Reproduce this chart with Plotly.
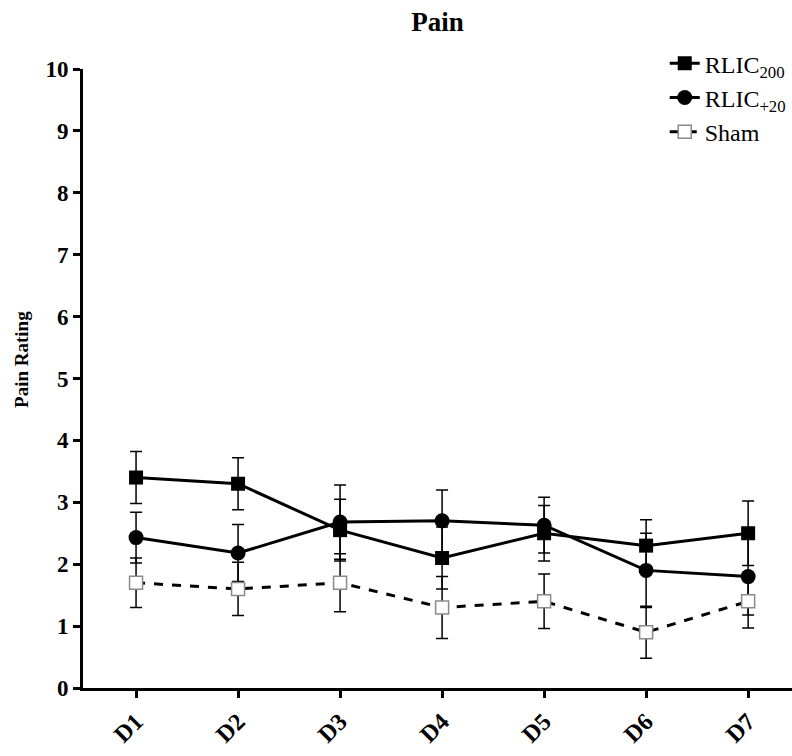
import plotly.graph_objects as go

days = ["D1", "D2", "D3", "D4", "D5", "D6", "D7"]
rlic200 = [3.4, 3.3, 2.55, 2.1, 2.5, 2.3, 2.5]
rlic200_err = [0.42, 0.42, 0.5, 0.5, 0.45, 0.42, 0.52]
rlic20 = [2.43, 2.18, 2.68, 2.7, 2.63, 1.9, 1.8]
rlic20_err = [0.41, 0.46, 0.6, 0.5, 0.45, 0.6, 0.62]
sham = [1.7, 1.6, 1.7, 1.3, 1.4, 0.9, 1.4]
sham_err = [0.4, 0.43, 0.47, 0.5, 0.44, 0.42, 0.43]
y_ticks = list(range(0, 11))

font_family = "Liberation Serif, Times New Roman, serif"

fig = go.Figure()

def err(arr):
    return dict(type="data", array=arr, visible=True, color="black", thickness=1.5, width=6)

fig.add_trace(go.Scatter(
    x=days, y=rlic200, name="RLIC<sub>200</sub>", mode="lines+markers",
    line=dict(color="black", width=3),
    marker=dict(symbol="square", size=14, color="black"),
    error_y=err(rlic200_err)))
fig.add_trace(go.Scatter(
    x=days, y=rlic20, name="RLIC<sub>+20</sub>", mode="lines+markers",
    line=dict(color="black", width=3),
    marker=dict(symbol="circle", size=15, color="black"),
    error_y=err(rlic20_err)))
fig.add_trace(go.Scatter(
    x=days, y=sham, name="Sham", mode="lines+markers",
    line=dict(color="black", width=3, dash="dash"),
    marker=dict(symbol="square", size=13, color="white", line=dict(color="#8a8a8a", width=1.5)),
    error_y=err(sham_err)))

fig.update_layout(
    width=792, height=756,
    margin=dict(l=83, r=0, t=69, b=68, autoexpand=False),
    paper_bgcolor="white", plot_bgcolor="white",
    font=dict(family=font_family, size=22, color="black"),
    title=dict(text="<b>Pain</b>", x=0.5, xref="paper", y=1 - 22 / 756, yref="container",
               xanchor="center", yanchor="middle", font=dict(size=27, family=font_family)),
    showlegend=True,
    legend=dict(x=0.8205, y=1.045, xanchor="left", yanchor="top", bgcolor="rgba(0,0,0,0)",
                font=dict(size=24, family=font_family), tracegroupgap=0, itemwidth=30),
    xaxis=dict(
        type="category", categoryorder="array", categoryarray=days,
        range=[-0.52, 6.43],
        showline=True, linecolor="black", linewidth=3,
        ticks="outside", ticklen=7, tickwidth=2.5, tickcolor="black",
        tickangle=-45, showgrid=False, zeroline=False,
        tickfont=dict(size=24, family=font_family, weight="bold")),
    yaxis=dict(
        range=[0, 10], tickvals=y_ticks, ticktext=[f"<b>{v}</b>" for v in y_ticks],
        showline=True, linecolor="black", linewidth=3,
        ticks="outside", ticklen=7, tickwidth=2.5, tickcolor="black",
        showgrid=False, zeroline=False,
        tickfont=dict(size=23, family=font_family)),
    annotations=[dict(
        text="<b>Pain Rating</b>", x=-0.086, y=0.53, xref="paper", yref="paper",
        textangle=-90, showarrow=False, xanchor="center", yanchor="middle",
        font=dict(size=19, family=font_family))],
)

fig.write_html("out.html", config={"displayModeBar": False},
               post_script="document.body.style.margin='0';document.body.style.overflow='hidden';")
